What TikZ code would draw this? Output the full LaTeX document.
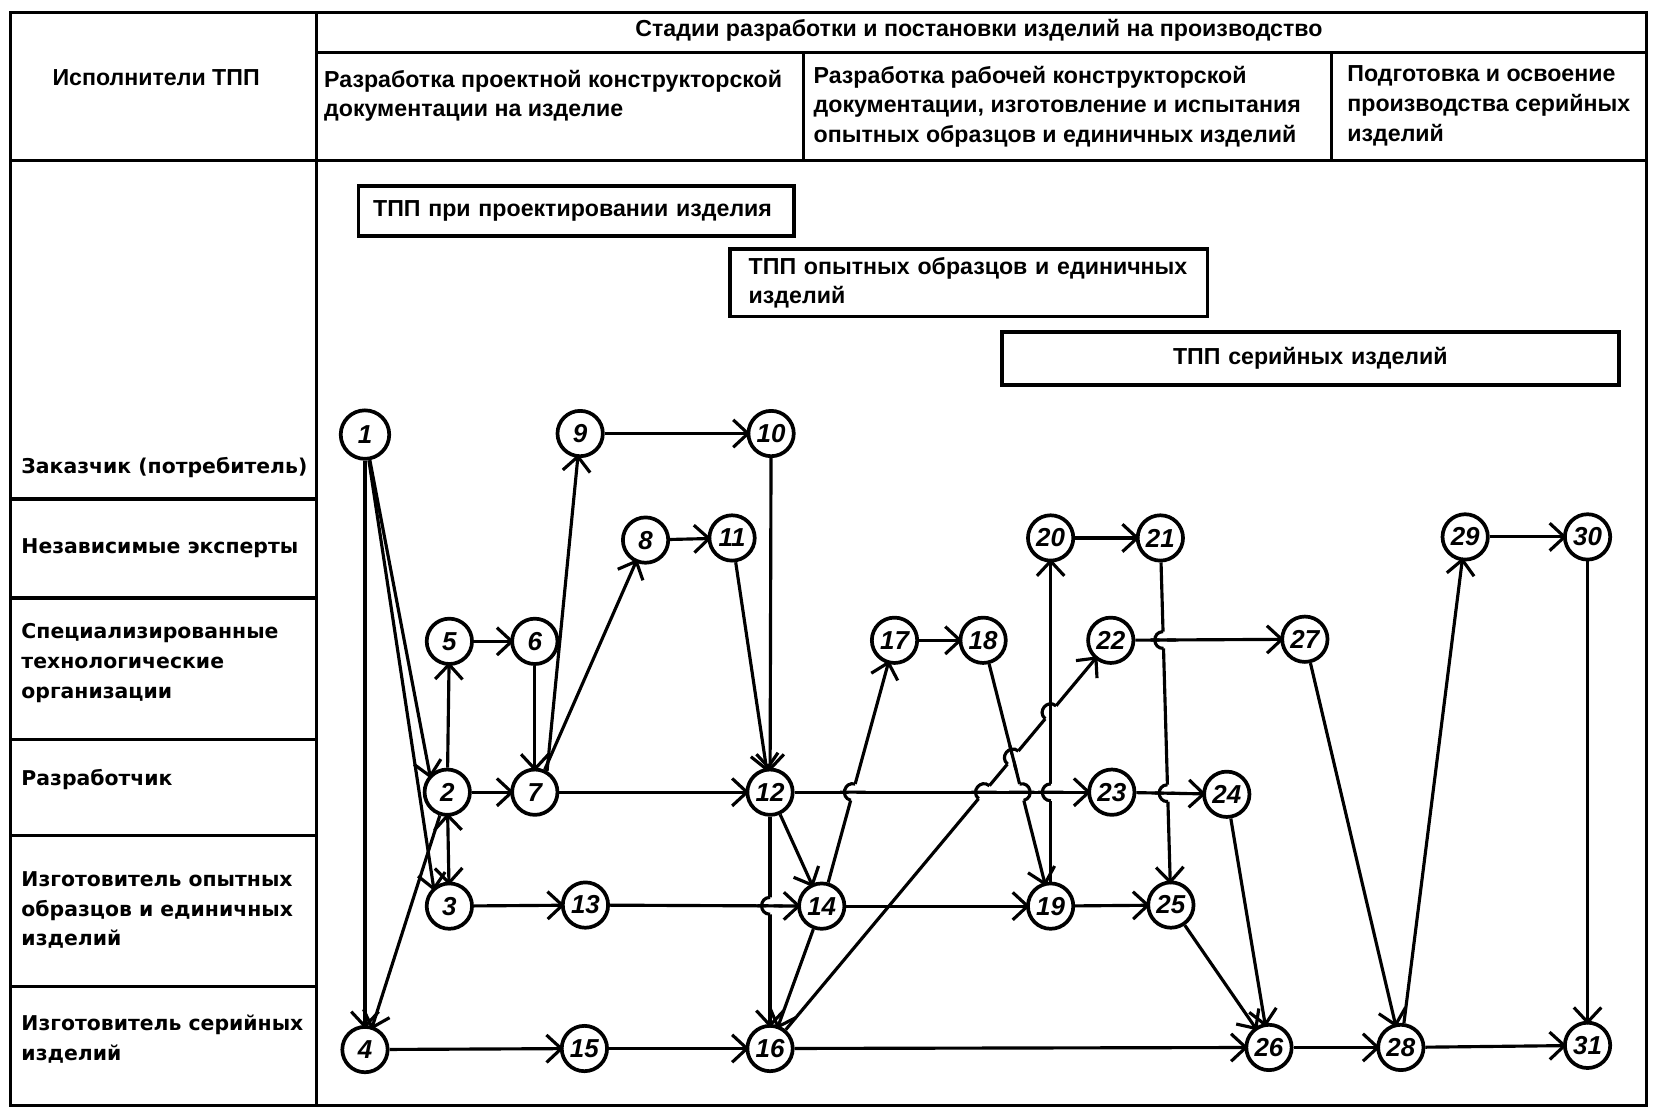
\documentclass[tikz,border=0pt]{standalone}
\usepackage{fontspec}
\setmainfont{Liberation Sans}
\newfontfamily\wide{DejaVu Sans}
\usetikzlibrary{arrows.meta,calc}
\tikzset{
  ev/.style={circle, draw, line width=2pt, fill=white, minimum size=0.86cm, inner sep=0pt, font=\fontsize{14}{14}\selectfont\bfseries\itshape},
  link/.style={line width=1.7pt, shorten >=-2pt, -{Straight Barb[length=2.8mm,width=5.2mm]}},
  twoway/.style={line width=1.7pt, shorten >=-2pt, shorten <=-2pt, {Straight Barb[length=2.8mm,width=5.2mm]}-{Straight Barb[length=2.8mm,width=5.2mm]}},
  tabline/.style={line width=1.8pt},
  head/.style={font=\fontsize{12.5}{16}\selectfont\bfseries, align=left, inner sep=0pt},
  actor/.style={font=\wide\fontsize{11}{16}\selectfont\bfseries, align=left, inner sep=0pt, anchor=north west},
  stagebox/.style={draw, line width=2pt, anchor=west, font=\fontsize{12.5}{16}\selectfont\bfseries, align=left, inner xsep=0.28cm}
}
% line #1--#2 jumps over line #3--#4, bump to side #5
\newcommand\jumpover[5]{%
  \coordinate (hx) at (intersection of #1--#2 and #3--#4);
  \draw[white, line width=4pt] ($(hx)!1.6mm!(#1)$) -- ($(hx)!1.6mm!(#2)$);
  \draw[line width=1.7pt] ($(hx)!2.4mm!(#3)$) -- ($(hx)!2.4mm!(#4)$);
  \draw[line width=1.7pt] ($(hx)!1.6mm!(#1)$) to[bend #5=90, looseness=1.7] ($(hx)!1.6mm!(#2)$);
}

\begin{document}
\begin{tikzpicture}[x=0.02cm, y=-0.02cm]
\fill[white] (0,0) rectangle (1568,1053);
% table
\draw[tabline] (10,12) rectangle (1561,1048);
\draw[tabline] (300,12) -- (300,1048);
\draw[tabline] (300,50) -- (1561,50);
\draw[tabline] (762,50) -- (762,152) (1262,50) -- (1262,152);
\draw[tabline] (10,152) -- (1561,152);
\foreach \y in {473,567,701,792,935} \draw[tabline] (10,\y) -- (300,\y);

% headers
\node[head] (who) at (148,74) {Исполнители ТПП};
\node[head] (stages) at (928,29) {Стадии разработки и постановки изделий на производство};
\node[head, anchor=north west] (st1) at (307,66) {Разработка проектной конструкторской\\документации на изделие};
\node[head, anchor=north west] (st2) at (771,62) {Разработка рабочей конструкторской\\документации, изготовление и испытания\\опытных образцов и единичных изделий};
\node[head, anchor=north west] (st3) at (1277,62) {Подготовка и освоение\\производства серийных\\изделий};

% performers
\node[actor] (a1) at (20,433) {Заказчик (потребитель)};
\node[actor] (a2) at (20,510) {Независимые эксперты};
\node[actor] (a3) at (20,591) {Специализированные\\технологические\\организации};
\node[actor] (a4) at (20,729) {Разработчик};
\node[actor] (a5) at (20,826) {Изготовитель опытных\\образцов и единичных\\изделий};
\node[actor] (a6) at (20,962) {Изготовитель серийных\\изделий};

% stage bars
\node[stagebox, text width=7.7cm, minimum height=0.96cm] (tpp1) at (338,200) {ТПП при проектировании изделия};
\node[stagebox, text width=8.34cm, minimum height=1.28cm, inner xsep=0.36cm] (tpp2) at (690,268) {ТПП опытных образцов и единичных\\изделий};
\node[stagebox, text width=11.14cm, minimum height=1cm, align=center] (tpp3) at (948,340) {ТПП серийных изделий};

% events
\node[ev, minimum size=0.92cm] (e1) at (346,412) {1};
\node[ev] (e2) at (424,751) {2};
\node[ev] (e3) at (426,859) {3};
\node[ev] (e4) at (346,995) {4};
\node[ev] (e5) at (426,608) {5};
\node[ev] (e6) at (507,608) {6};
\node[ev] (e7) at (507,751) {7};
\node[ev] (e8) at (612,512) {8};
\node[ev] (e9) at (550,411) {9};
\node[ev] (e10) at (731,411) {10};
\node[ev] (e11) at (694,510) {11};
\node[ev] (e12) at (730,751) {12};
\node[ev] (e13) at (555,858) {13};
\node[ev] (e14) at (779,859) {14};
\node[ev] (e15) at (554,994) {15};
\node[ev] (e16) at (730,994) {16};
\node[ev] (e17) at (848,607) {17};
\node[ev] (e18) at (932,607) {18};
\node[ev] (e19) at (996,859) {19};
\node[ev] (e20) at (996,510) {20};
\node[ev] (e21) at (1100,510) {21};
\node[ev] (e22) at (1053,607) {22};
\node[ev] (e23) at (1054,751) {23};
\node[ev] (e24) at (1163,753) {24};
\node[ev] (e25) at (1110,858) {25};
\node[ev] (e26) at (1203,993) {26};
\node[ev] (e27) at (1237,606) {27};
\node[ev] (e28) at (1328,993) {28};
\node[ev] (e29) at (1389,509) {29};
\node[ev] (e30) at (1505,509) {30};
\node[ev] (e31) at (1505,991) {31};

% works
\draw[link] (e1) -- (e2.135);
\draw[link] (e1) -- (e3.130);
\draw[link] (e1) -- (e4);
\draw[link] (e2) -- (e4);
\draw[twoway] (e2) -- (e3);
\draw[link] (e2) -- (e5);
\draw[link] (e2) -- (e7);
\draw[link] (e5) -- (e6);
\draw[link] (e6) -- (e7);
\draw[link] (e7.60) -- (e9);
\draw[link] (e7) -- (e8);
\draw[link] (e9) -- (e10);
\draw[link] (e8) -- (e11);
\draw[link] (e10) -- (e12);
\draw[link] (e11) -- (e12);
\draw[link] (e7) -- (e12);
\draw[link] (e3) -- (e13);
\draw[link] (e13) -- (e14);
\draw[link] (e12) -- (e14);
\draw[link] (e12) -- (e16);
\draw[link] (e14) -- (e16);
\draw[link] (e4) -- (e15);
\draw[link] (e15) -- (e16);
\draw[link] (e16) -- (e26);
\draw[link] (e16) -- (e22);
\draw[link] (e14) -- (e17);
\draw[link] (e17) -- (e18);
\draw[link] (e18) -- (e19);
\draw[link] (e14) -- (e19);
\draw[link] (e19) -- (e20);
\draw[link] (e20) -- (e21);
\draw[link] (e21) -- (e25);
\draw[link] (e12) -- (e23);
\draw[link] (e23) -- (e24);
\draw[link] (e22) -- (e27);
\draw[link] (e19) -- (e25);
\draw[link] (e25) -- (e26);
\draw[link] (e24) -- (e26);
\draw[link] (e26) -- (e28);
\draw[link] (e27) -- (e28);
\draw[link] (e28) -- (e29);
\draw[link] (e29) -- (e30);
\draw[link] (e30) -- (e31);
\draw[link] (e28) -- (e31);

% crossings
\jumpover{e12}{e16}{e13}{e14}{right}
\jumpover{e14}{e17}{e12}{e23}{left}
\jumpover{e16}{e22}{e12}{e23}{left}
\jumpover{e18}{e19}{e12}{e23}{left}
\jumpover{e19}{e20}{e12}{e23}{left}
\jumpover{e21}{e25}{e23}{e24}{right}
\jumpover{e21}{e25}{e22}{e27}{right}
\jumpover{e16}{e22}{e19}{e20}{left}
\jumpover{e16}{e22}{e18}{e19}{left}
\end{tikzpicture}
\end{document}
